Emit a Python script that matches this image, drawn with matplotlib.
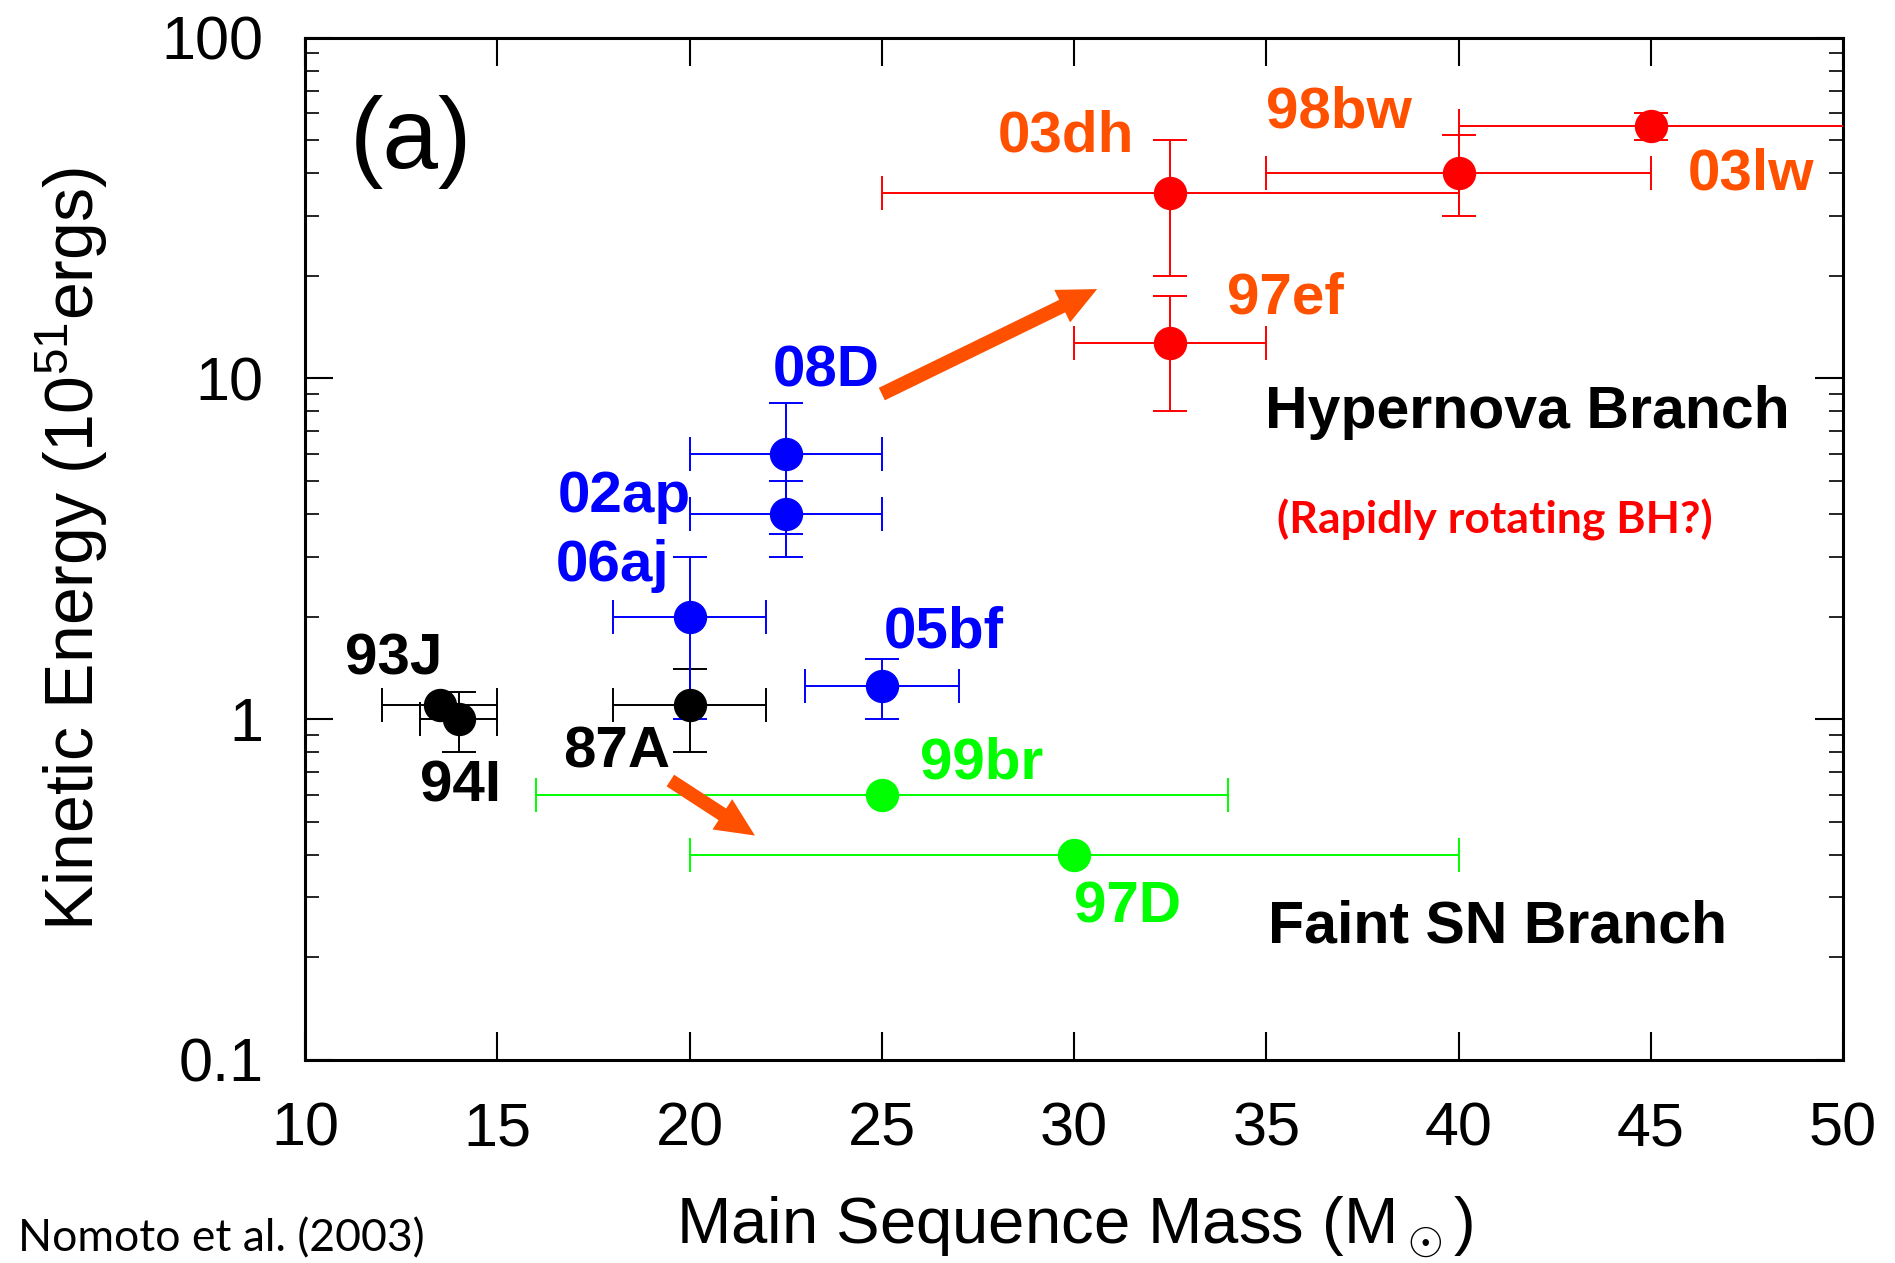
import matplotlib
matplotlib.use('Agg')
import matplotlib.pyplot as plt
from matplotlib.ticker import LogLocator, NullFormatter, FixedLocator

plt.rcParams['font.family'] = ['Liberation Sans', 'DejaVu Sans']
plt.rcParams['mathtext.fontset'] = 'custom'
plt.rcParams['mathtext.rm'] = 'Liberation Sans'

# supernova data: name, mass, energy, mass range, energy range
names = ['93J', '94I', '87A', '06aj', '02ap', '08D', '05bf',
         '03dh', '97ef', '98bw', '03lw', '99br', '97D']
mass = [13.5, 14.0, 20.0, 20.0, 22.5, 22.5, 25.0,
        32.5, 32.5, 40.0, 45.0, 25.0, 30.0]
energy = [1.1, 1.0, 1.1, 2.0, 4.0, 6.0, 1.25,
          35.0, 12.7, 40.0, 55.0, 0.6, 0.4]
mass_lo = [12.0, 13.0, 18.0, 18.0, 20.0, 20.0, 23.0,
           25.0, 30.0, 35.0, 40.0, 16.0, 20.0]
mass_hi = [15.0, 15.0, 22.0, 22.0, 25.0, 25.0, 27.0,
           40.0, 35.0, 45.0, 55.0, 34.0, 40.0]
energy_lo = [1.1, 0.8, 0.8, 1.0, 3.0, 3.5, 1.0,
             20.0, 8.0, 30.0, 50.0, 0.6, 0.4]
energy_hi = [1.1, 1.2, 1.4, 3.0, 5.0, 8.5, 1.5,
             50.0, 17.5, 52.0, 60.0, 0.6, 0.4]
point_colors = ['black', 'black', 'black', '#0000ff', '#0000ff', '#0000ff', '#0000ff',
                '#ff0000', '#ff0000', '#ff0000', '#ff0000', '#00ff00', '#00ff00']

# label positions (data coordinates)
label_x = [12.3, 14.05, 18.1, 18.0, 18.3, 23.55, 26.6,
           29.8, 35.5, 36.9, 47.6, 27.6, 31.4]
label_y = [1.5, 0.635, 0.80, 2.82, 4.5, 10.5, 1.8,
           51.5, 17.2, 60.2, 39.7, 0.742, 0.28]
label_colors = ['black', 'black', 'black', '#0000ff', '#0000ff', '#0000ff', '#0000ff',
                '#ff5000', '#ff5000', '#ff5000', '#ff5000', '#00ff00', '#00ff00']

arrow_start = [(25.0, 9.0), (19.5, 0.66)]
arrow_end = [(30.6, 18.3), (21.7, 0.455)]

fig = plt.figure(figsize=(18.95, 12.63), dpi=100)
ax = fig.add_axes([0.161, 0.161, 0.8116, 0.809])

for i in range(len(names)):
    xerr = [[mass[i] - mass_lo[i]], [mass_hi[i] - mass[i]]]
    yerr = [[energy[i] - energy_lo[i]], [energy_hi[i] - energy[i]]]
    has_y = energy_hi[i] > energy_lo[i]
    ax.errorbar([mass[i]], [energy[i]], xerr=xerr, yerr=yerr if has_y else None,
                fmt='o', color=point_colors[i], ms=23, elinewidth=1.4,
                capsize=12, capthick=1.4, clip_on=True, zorder=3)
    ax.text(label_x[i], label_y[i], names[i], color=label_colors[i],
            fontsize=42, fontweight='bold', ha='center', va='center', zorder=4)

for s, e in zip(arrow_start, arrow_end):
    ax.annotate('', xy=e, xytext=s,
                arrowprops=dict(facecolor='#ff5000', edgecolor='none',
                                width=10, headwidth=26, headlength=28, shrink=0),
                zorder=5)

ax.text(12.75, 49.5, '(a)', fontsize=72, ha='center', va='center')
ax.text(41.8, 7.97, 'Hypernova Branch', fontsize=42.5, fontweight='bold',
        ha='center', va='center')
ax.text(41.0, 0.246, 'Faint SN Branch', fontsize=42.5, fontweight='bold',
        ha='center', va='center')
ax.text(40.95, 3.85, '(Rapidly rotating BH?)', fontsize=32, fontweight='bold',
        color='#ff0000', family=['Lato', 'DejaVu Sans'], ha='center', va='center')

ax.set_xscale('linear')
ax.set_yscale('log')
ax.set_xlim(10, 50)
ax.set_ylim(0.1, 100)

ax.xaxis.set_major_locator(FixedLocator([10, 15, 20, 25, 30, 35, 40, 45, 50]))
ax.yaxis.set_major_locator(FixedLocator([0.1, 1, 10, 100]))
ax.yaxis.set_minor_locator(LogLocator(base=10, subs=range(2, 10)))
ax.yaxis.set_minor_formatter(NullFormatter())
ax.set_yticklabels(['0.1', '1', '10', '100'])

ax.tick_params(axis='both', which='major', direction='in', length=20, width=1.5,
               top=True, right=True, labelsize=44)
ax.tick_params(axis='y', which='major', pad=30)
ax.tick_params(axis='x', which='major', pad=30)
ax.tick_params(axis='y', which='minor', direction='in', length=10, width=1.2,
               left=True, right=True)
for sp in ax.spines.values():
    sp.set_linewidth(2.2)

ax.set_xlabel(r'Main Sequence Mass (M$_\odot$)', fontsize=47, labelpad=26)
ax.set_ylabel(r'Kinetic Energy (10$^{51}$ergs)', fontsize=49, labelpad=36)

fig.text(0.0095, 0.0195, 'Nomoto et al. (2003)', fontsize=32,
         family=['Lato', 'DejaVu Sans'], ha='left', va='center')

fig.savefig('out.png', dpi=100)
